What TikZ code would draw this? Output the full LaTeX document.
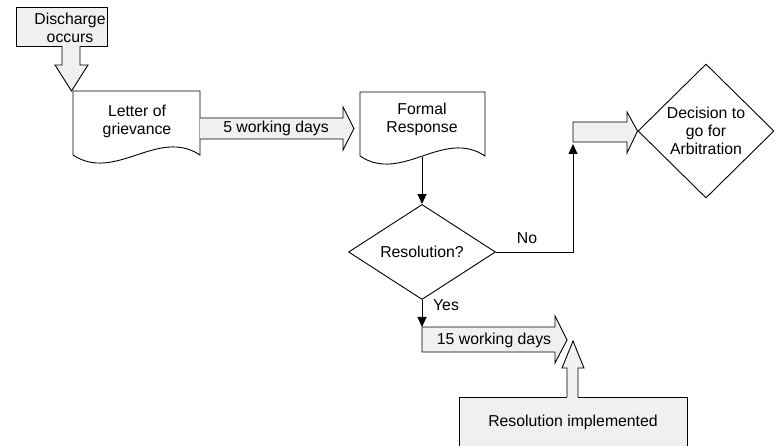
\documentclass[tikz,border=0pt]{standalone}
\usepackage{fontspec}
\setmainfont{Liberation Sans}
\usetikzlibrary{shapes.geometric,arrows.meta}
\begin{document}
\begin{tikzpicture}[x=1pt,y=-1pt,
  line width=0.9pt,
  every node/.style={font=\fontsize{15.8}{18}\selectfont, align=center, inner sep=0pt},
  boxfill/.style={fill=black!6},
  decbox/.style={diamond, draw, fill=white},
  conn/.style={-{Triangle[length=10pt,width=9pt]}}]
\useasboundingbox (0,0) rectangle (779,446);

% Discharge box with down arrow
\fill[boxfill] (16,7) rectangle (107,46);
\draw (62,46) -- (16,46) -- (16,7) -- (107,7) -- (107,46) -- (80,46);
\path[boxfill, draw] (62,46) -- (62,65) -- (55,65) -- (71.5,91) -- (88,65) -- (80,65) -- (80,46);
\node (dis) at (70,28) {Discharge\\occurs};

% Letter of grievance document
\draw (73,155) -- (73,91) -- (200,91) -- (200,155) .. controls (157.7,127) and (115.3,183) .. (73,155) -- cycle;
\node (letter) at (137,121) {Letter of\\grievance};

% 5 working days arrow
\path[boxfill, draw] (200,118) -- (343,118) -- (343,107) -- (354,128.5) -- (343,150) -- (343,139) -- (200,139);
\node (five) at (276,128) {5 working days};

% Formal Response document
\draw (360,156) -- (360,92) -- (485,92) -- (485,156) .. controls (443.3,128) and (401.7,184) .. (360,156) -- cycle;
\node (formal) at (422,119) {Formal\\Response};
\coordinate (fbot) at (422,157);

% Resolution diamond
\node[decbox, minimum width=147pt, minimum height=85pt] (res) at (422,252) {Resolution?};
\draw[conn] (fbot) -- (res.north);

% Decision diamond
\node[decbox, minimum width=136pt, minimum height=134pt] (dec) at (706,131) {Decision to\\go for\\Arbitration};

% Arbitration arrow
\path[boxfill, draw] (573,122) -- (627,122) -- (627,112) -- (dec.west) -- (627,153) -- (627,142) -- (573,142) -- cycle;
\coordinate (noEnd) at (573,144);
\draw[conn] (res.east) -| (noEnd);
\node (no) at (527,238) {No};

% Yes branch
\coordinate (yesEnd) at (422,327);
\draw[conn] (res.south) -- (yesEnd);
\node (yes) at (446,305) {Yes};

% 15 working days arrow
\path[boxfill, draw] (422,327) -- (555,327) -- (555,316) -- (567,340) -- (555,363) -- (555,352) -- (422,352) -- cycle;
\node (fifteen) at (494,340) {15 working days};

% Resolution implemented box with up arrow
\fill[boxfill] (459,397) rectangle (687,446);
\draw (567,397) -- (459,397) -- (459,446);
\draw (578,397) -- (687,397) -- (687,446);
\path[boxfill, draw] (567,397) -- (567,368) -- (562,368) -- (573,341) -- (584,368) -- (578,368) -- (578,397);
\node (impl) at (573,422) {Resolution implemented};
\end{tikzpicture}
\end{document}
